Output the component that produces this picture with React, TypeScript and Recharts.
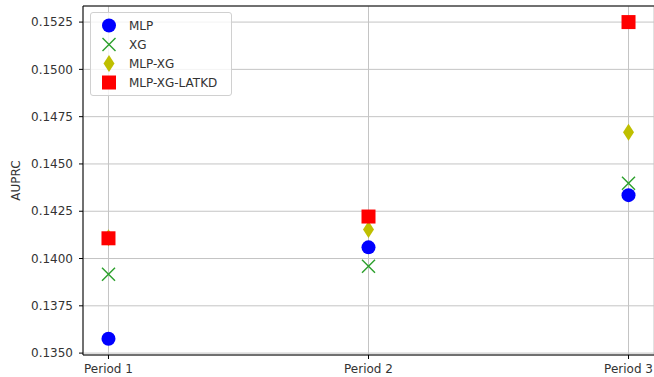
import React from 'react';
import {
  ScatterChart,
  Scatter,
  XAxis,
  YAxis,
  CartesianGrid,
  Legend,
  ReferenceLine,
} from 'recharts';

const periods = ['Period 1', 'Period 2', 'Period 3'];
const mlp = [0.13576, 0.14059, 0.14335];
const xg = [0.13917, 0.13959, 0.14398];
const mlpXg = [0.1411, 0.14154, 0.14668];
const latkd = [0.14107, 0.14222, 0.1525];
const yTicks = [0.135, 0.1375, 0.14, 0.1425, 0.145, 0.1475, 0.15, 0.1525];

const Y_MIN = 0.1349;
const Y_MAX = 0.15335;
const FONT = 'DejaVu Sans, sans-serif';
const TEXT = '#333';

const toPoints = (vals: number[]) => vals.map((y, x) => ({ x, y }));

function Marker({ kind, cx, cy }: { kind: string; cx: number; cy: number }) {
  if (kind === 'circle') return <circle cx={cx} cy={cy} r={7} fill="#0000ff" />;
  if (kind === 'x')
    return (
      <g stroke="#2ca02c" strokeWidth={1.4}>
        <line x1={cx - 6.5} y1={cy - 6.5} x2={cx + 6.5} y2={cy + 6.5} />
        <line x1={cx - 6.5} y1={cy + 6.5} x2={cx + 6.5} y2={cy - 6.5} />
      </g>
    );
  if (kind === 'diamond')
    return (
      <polygon
        points={`${cx},${cy - 8.5} ${cx + 5.5},${cy} ${cx},${cy + 8.5} ${cx - 5.5},${cy}`}
        fill="#bfbf00"
      />
    );
  return <rect x={cx - 7} y={cy - 7} width={14} height={14} fill="#ff0000" />;
}

const SERIES = [
  { name: 'MLP', kind: 'circle', data: mlp },
  { name: 'XG', kind: 'x', data: xg },
  { name: 'MLP-XG', kind: 'diamond', data: mlpXg },
  { name: 'MLP-XG-LATKD', kind: 'square', data: latkd },
];

function LegendBox() {
  return (
    <div
      style={{
        background: 'rgba(255,255,255,0.8)',
        border: '1px solid #d0d0d0',
        borderRadius: 3,
        padding: '3px 6px 3px 8px',
        width: 126,
        fontFamily: FONT,
        fontSize: 12,
        color: TEXT,
      }}
    >
      {SERIES.map((s) => (
        <div key={s.name} style={{ display: 'flex', alignItems: 'center', height: 19 }}>
          <svg width={30} height={19} style={{ flex: 'none' }}>
            <Marker kind={s.kind} cx={10} cy={9.5} />
          </svg>
          <span style={{ whiteSpace: 'nowrap' }}>{s.name}</span>
        </div>
      ))}
    </div>
  );
}

export default function App() {
  return (
    <div style={{ position: 'absolute', left: 0, top: 0 }}>
      <ScatterChart width={654} height={377} margin={{ top: 6, right: 0, bottom: 0, left: 0 }}>
        <CartesianGrid stroke="#c4c4c4" strokeWidth={1} />
        <XAxis
          type="number"
          dataKey="x"
          domain={[-0.098, 2.098]}
          ticks={[0, 1, 2]}
          allowDataOverflow
          tickFormatter={(v) => periods[v] ?? ''}
          height={22}
          tickSize={4}
          tickMargin={5}
          stroke="#000"
          tick={{ fill: TEXT, fontSize: 12, fontFamily: FONT }}
        />
        <YAxis
          type="number"
          dataKey="y"
          domain={[Y_MIN, Y_MAX]}
          ticks={yTicks}
          allowDataOverflow
          width={83}
          tickSize={4}
          tickMargin={6}
          stroke="#000"
          tickFormatter={(v) => v.toFixed(4)}
          tick={{ fill: TEXT, fontSize: 12, fontFamily: FONT }}
          label={{
            content: ({ viewBox }: any) => {
              const cy = viewBox.y + viewBox.height / 2;
              return (
                <text
                  x={16}
                  y={cy}
                  transform={`rotate(-90 16 ${cy})`}
                  textAnchor="middle"
                  dominantBaseline="central"
                  fill={TEXT}
                  fontSize={12}
                  fontFamily={FONT}
                >
                  AUPRC
                </text>
              );
            },
          }}
        />
        <ReferenceLine y={Y_MAX} stroke="#000" strokeWidth={1} />
        {SERIES.map((s) => (
          <Scatter
            key={s.name}
            name={s.name}
            data={toPoints(s.data)}
            isAnimationActive={false}
            shape={(p: any) => <Marker kind={s.kind} cx={p.cx} cy={p.cy} />}
          />
        ))}
        <Legend
          layout="vertical"
          align="center"
          verticalAlign="middle"
          wrapperStyle={{ top: 12, left: 90, width: 'auto' }}
          content={() => <LegendBox />}
        />
      </ScatterChart>
    </div>
  );
}
